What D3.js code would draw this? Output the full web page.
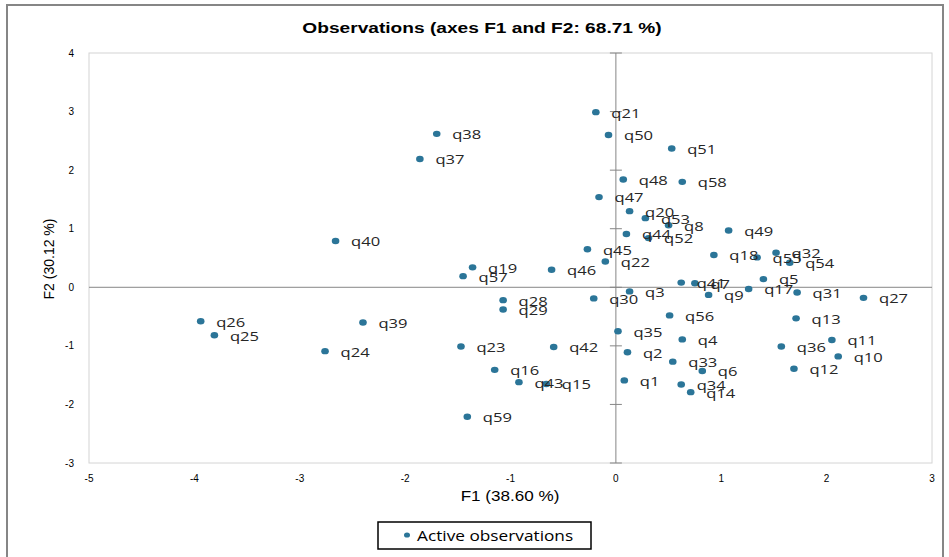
<!DOCTYPE html>
<html>
<head>
<meta charset="utf-8">
<script src="https://cdn.jsdelivr.net/npm/d3@7"></script>
<style>
  body { margin: 0; background: #fff; }
  svg { display: block; }
</style>
</head>
<body>
<div id="graph"></div>
<script>
// observations
var obsLabels = ["q1","q2","q3","q4","q5","q6","q7","q8","q9","q10",
  "q11","q12","q13","q14","q15","q16","q17","q18","q19","q20",
  "q21","q22","q23","q24","q25","q26","q27","q28","q29","q30",
  "q31","q32","q33","q34","q35","q36","q37","q38","q39","q40",
  "q41","q42","q43","q44","q45","q46","q47","q48","q49","q50",
  "q51","q52","q53","q54","q55","q56","q57","q58","q59"];
var f1Values = [0.08, 0.11, 0.13, 0.63, 1.40, 0.82, 0.75, 0.50, 0.88, 2.11,
  2.05, 1.69, 1.71, 0.71, -0.66, -1.15, 1.26, 0.93, -1.36, 0.13,
  -0.19, -0.10, -1.47, -2.76, -3.81, -3.94, 2.35, -1.07, -1.07, -0.21,
  1.72, 1.52, 0.54, 0.62, 0.02, 1.57, -1.86, -1.70, -2.40, -2.66,
  0.62, -0.59, -0.92, 0.10, -0.27, -0.61, -0.16, 0.07, 1.07, -0.07,
  0.53, 0.31, 0.28, 1.65, 1.34, 0.51, -1.45, 0.63, -1.41];
var f2Values = [-1.59, -1.11, -0.07, -0.89, 0.14, -1.43, 0.07, 1.06, -0.13, -1.18,
  -0.90, -1.39, -0.53, -1.79, -1.65, -1.41, -0.03, 0.55, 0.34, 1.30,
  2.99, 0.44, -1.01, -1.09, -0.82, -0.58, -0.18, -0.22, -0.38, -0.19,
  -0.09, 0.59, -1.27, -1.66, -0.75, -1.01, 2.19, 2.62, -0.60, 0.79,
  0.08, -1.02, -1.62, 0.91, 0.65, 0.30, 1.54, 1.84, 0.97, 2.60,
  2.37, 0.84, 1.18, 0.42, 0.51, -0.48, 0.19, 1.80, -2.21];
var xTicks = [-5, -4, -3, -2, -1, 0, 1, 2, 3];
var yTicks = [-3, -2, -1, 0, 1, 2, 3, 4];

var title = "Observations (axes F1 and F2: 68.71 %)";
var xTitle = "F1 (38.60 %)";
var yTitle = "F2 (30.12 %)";
var legendLabel = "Active observations";

var width = 949, height = 557;
var dotColor = "#2b7598";
var axisGray = "#868686";
var tickFont = "'Liberation Sans', Arial, sans-serif";

var x = d3.scaleLinear().domain([-5, 3]).range([89, 932]);
var y = d3.scaleLinear().domain([-3, 4]).range([463, 53]);

var svg = d3.select("#graph").append("svg")
    .attr("width", width)
    .attr("height", height);

// outer frame
svg.append("rect")
    .attr("x", 7).attr("y", 5)
    .attr("width", 936).attr("height", 570)
    .attr("fill", "none")
    .attr("stroke", axisGray)
    .attr("stroke-width", 2);

// title (the source picture is stretched sideways, so scale x)
svg.append("text")
    .attr("transform", "translate(482,33) scale(1.32,1)")
    .attr("text-anchor", "middle")
    .style("font-family", tickFont)
    .style("font-weight", "bold")
    .style("font-size", "14.5px")
    .style("fill", "#000")
    .text(title);

// plot area border
svg.append("rect")
    .attr("x", x(-5)).attr("y", y(4))
    .attr("width", x(3) - x(-5)).attr("height", y(-3) - y(4))
    .attr("fill", "none")
    .attr("stroke", "#d4d4d4")
    .attr("stroke-width", 1);

// zero lines
svg.append("line")
    .attr("x1", x(-5)).attr("x2", x(3))
    .attr("y1", y(0)).attr("y2", y(0))
    .attr("stroke", axisGray).attr("stroke-width", 1);
svg.append("line")
    .attr("x1", x(0)).attr("x2", x(0))
    .attr("y1", y(4)).attr("y2", y(-3))
    .attr("stroke", axisGray).attr("stroke-width", 1);

// tick marks on the vertical zero axis
svg.selectAll("line.ytick")
    .data(yTicks)
    .enter().append("line")
    .attr("class", "ytick")
    .attr("x1", x(0) - 6).attr("x2", x(0) + 6)
    .attr("y1", function(d) { return y(d); })
    .attr("y2", function(d) { return y(d); })
    .attr("stroke", axisGray).attr("stroke-width", 1);

// tick labels
svg.selectAll("text.xlab")
    .data(xTicks)
    .enter().append("text")
    .attr("class", "xlab")
    .attr("x", function(d) { return x(d); })
    .attr("y", 482)
    .attr("text-anchor", "middle")
    .style("font-family", tickFont)
    .style("font-size", "10px")
    .style("fill", "#000")
    .text(function(d) { return d; });

svg.selectAll("text.ylab")
    .data(yTicks)
    .enter().append("text")
    .attr("class", "ylab")
    .attr("x", 74)
    .attr("y", function(d) { return y(d) + 3.5; })
    .attr("text-anchor", "end")
    .style("font-family", tickFont)
    .style("font-size", "10px")
    .style("fill", "#000")
    .text(function(d) { return d; });

// axis titles
svg.append("text")
    .attr("transform", "translate(510,501) scale(1.22,1)")
    .attr("text-anchor", "middle")
    .style("font-family", tickFont)
    .style("font-size", "14px")
    .style("fill", "#000")
    .text(xTitle);

svg.append("text")
    .attr("transform", "translate(54,259) rotate(-90)")
    .attr("text-anchor", "middle")
    .style("font-family", tickFont)
    .style("font-size", "14px")
    .style("fill", "#000")
    .text(yTitle);

// points
var nodes = obsLabels.map(function(d, i) {
    return { id: d, f1: f1Values[i], f2: f2Values[i] };
});

svg.selectAll("ellipse.obs")
    .data(nodes)
    .enter().append("ellipse")
    .attr("class", "obs")
    .attr("cx", function(d) { return x(d.f1); })
    .attr("cy", function(d) { return y(d.f2); })
    .attr("rx", 3.8)
    .attr("ry", 3.2)
    .attr("fill", dotColor);

svg.selectAll("text.obs-label")
    .data(nodes)
    .enter().append("text")
    .attr("class", "obs-label")
    .attr("transform", function(d) {
        return "translate(" + (x(d.f1) + 15.5) + "," + (y(d.f2) + 5.4) + ") scale(1.38,1)";
    })
    .style("font-family", "'Open Sans', sans-serif")
    .style("font-size", "12px")
    .style("fill", "#262626")
    .text(function(d) { return d.id; });

// legend
var legend = svg.append("g");
legend.append("rect")
    .attr("x", 378).attr("y", 522)
    .attr("width", 213).attr("height", 27)
    .attr("fill", "#fff")
    .attr("stroke", "#000")
    .attr("stroke-width", 1.5);
legend.append("ellipse")
    .attr("cx", 407).attr("cy", 535)
    .attr("rx", 3).attr("ry", 2.6)
    .attr("fill", dotColor);
legend.append("text")
    .attr("transform", "translate(417,541) scale(1.15,1)")
    .style("font-family", "'Open Sans', sans-serif")
    .style("font-size", "15px")
    .style("fill", "#000")
    .text(legendLabel);
</script>
</body>
</html>
